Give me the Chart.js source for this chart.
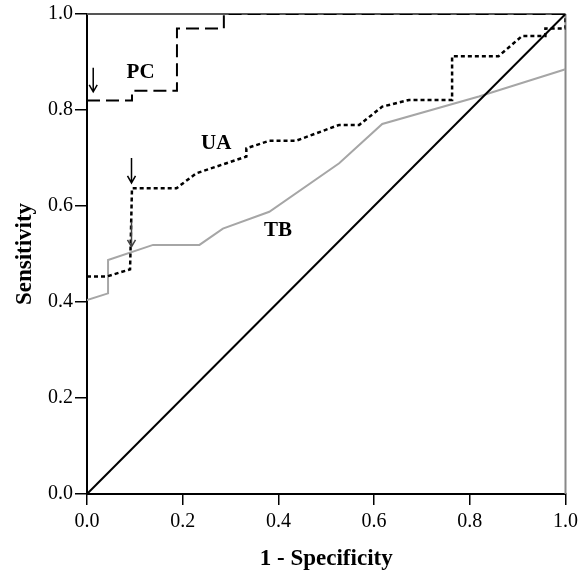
<!DOCTYPE html>
<html>
<head>
<meta charset="utf-8">
<script src="https://cdn.jsdelivr.net/npm/chart.js@4.4.1/dist/chart.umd.min.js"></script>
<style>
  html, body { margin: 0; padding: 0; background: #fff; }
  #wrap { width: 583px; height: 575px; }
</style>
</head>
<body>
<div id="wrap"><canvas id="rocChart" width="583" height="575"></canvas></div>
<script>
// ROC-kurver (1 - specificitet, sensitivitet)
const pcX = [0, 0.094, 0.094, 0.188, 0.188, 0.286, 0.286, 1.0];
const pcY = [0.82, 0.82, 0.84, 0.84, 0.97, 0.97, 1.0, 1.0];

const uaX = [0, 0.041, 0.090, 0.094, 0.187, 0.228, 0.333, 0.333, 0.381, 0.437, 0.527, 0.569, 0.617, 0.673, 0.763, 0.763, 0.860, 0.909, 0.958, 0.958, 1.0, 1.0];
const uaY = [0.453, 0.453, 0.468, 0.637, 0.637, 0.668, 0.703, 0.720, 0.736, 0.736, 0.769, 0.769, 0.807, 0.821, 0.821, 0.912, 0.912, 0.954, 0.954, 0.970, 0.970, 1.0];

const tbX = [0, 0.044, 0.044, 0.138, 0.235, 0.284, 0.381, 0.527, 0.617, 0.819, 1.0];
const tbY = [0.404, 0.418, 0.4875, 0.519, 0.519, 0.553, 0.588, 0.689, 0.771, 0.828, 0.885];

const refX = [0, 1];
const refY = [0, 1];

const tickValues = [0, 0.2, 0.4, 0.6, 0.8, 1.0];

// tekst og pile i dataenheder
const labelTexts = ['PC', 'UA', 'TB'];
const labelX = [0.112, 0.270, 0.399];
const labelY = [0.877, 0.730, 0.548];

const arrowX = [0.013, 0.093, 0.093];
const arrowTop = [0.888, 0.700, 0.567];
const arrowBottom = [0.838, 0.648, 0.515];
const arrowColors = ['#000', '#000', '#444'];

function toPoints(xs, ys) {
    return xs.map((x, i) => ({ x: x, y: ys[i] }));
}

Chart.defaults.font.family = "'Liberation Serif', 'Times New Roman', serif";
Chart.defaults.color = '#000';

const annotations = {
    id: 'annotations',
    beforeDatasetsDraw(chart) {
        // ramme top og højre, under kurverne
        const ctx = chart.ctx;
        const area = chart.chartArea;
        ctx.save();
        ctx.lineWidth = 2;
        ctx.strokeStyle = '#555';
        ctx.beginPath();
        ctx.moveTo(area.left, area.top);
        ctx.lineTo(area.right, area.top);
        ctx.stroke();
        ctx.strokeStyle = '#888';
        ctx.beginPath();
        ctx.moveTo(area.right, area.top);
        ctx.lineTo(area.right, area.bottom);
        ctx.stroke();
        ctx.restore();
    },
    afterDatasetsDraw(chart) {
        const ctx = chart.ctx;
        const xs = chart.scales.x;
        const ys = chart.scales.y;

        ctx.save();
        ctx.fillStyle = '#000';
        ctx.font = "bold 21px 'Liberation Serif', serif";
        ctx.textAlign = 'center';
        ctx.textBaseline = 'middle';
        labelTexts.forEach((t, i) => {
            ctx.fillText(t, xs.getPixelForValue(labelX[i]), ys.getPixelForValue(labelY[i]));
        });

        arrowX.forEach((ax, i) => {
            const px = xs.getPixelForValue(ax);
            const top = ys.getPixelForValue(arrowTop[i]);
            const bot = ys.getPixelForValue(arrowBottom[i]);
            ctx.strokeStyle = arrowColors[i];
            ctx.lineWidth = 1.5;
            ctx.beginPath();
            ctx.moveTo(px, top);
            ctx.lineTo(px, bot);
            ctx.moveTo(px - 4, bot - 7);
            ctx.lineTo(px, bot);
            ctx.lineTo(px + 4, bot - 7);
            ctx.stroke();
        });
        ctx.restore();
    }
};

const ctx = document.getElementById('rocChart').getContext('2d');

new Chart(ctx, {
    type: 'scatter',
    data: {
        datasets: [
            {
                label: 'UA',
                data: toPoints(uaX, uaY),
                borderColor: '#000',
                borderWidth: 2.5,
                borderDash: [4, 3]
            },
            {
                label: 'PC',
                data: toPoints(pcX, pcY),
                borderColor: '#000',
                borderWidth: 2,
                borderDash: [13, 6]
            },
            {
                label: 'Reference',
                data: toPoints(refX, refY),
                borderColor: '#000',
                borderWidth: 2
            },
            {
                label: 'TB',
                data: toPoints(tbX, tbY),
                borderColor: '#a6a6a6',
                borderWidth: 2
            }
        ]
    },
    options: {
        responsive: false,
        animation: false,
        devicePixelRatio: 1,
        showLine: true,
        elements: {
            point: { radius: 0, hoverRadius: 0 },
            line: { tension: 0, fill: false }
        },
        layout: { padding: { top: 14, right: 16, left: 0, bottom: 0 } },
        plugins: {
            legend: { display: false },
            tooltip: { enabled: false }
        },
        scales: {
            x: {
                type: 'linear',
                min: 0,
                max: 1,
                afterBuildTicks: scale => { scale.ticks = tickValues.map(v => ({ value: v })); },
                afterFit: scale => { scale.height = 81; },
                ticks: {
                    font: { size: 20 },
                    color: '#000',
                    padding: 5,
                    maxRotation: 0,
                    callback: v => v.toFixed(1)
                },
                grid: {
                    display: true,
                    drawOnChartArea: false,
                    drawTicks: true,
                    tickLength: 11,
                    color: '#000',
                    lineWidth: 1.5
                },
                border: { display: true, color: '#000', width: 2 },
                title: {
                    display: true,
                    text: '1 - Specificity',
                    font: { size: 23, weight: 'bold' },
                    color: '#000',
                    padding: { top: 0, bottom: 2 }
                }
            },
            y: {
                type: 'linear',
                min: 0,
                max: 1,
                afterBuildTicks: scale => { scale.ticks = tickValues.map(v => ({ value: v })); },
                afterFit: scale => { scale.width = 87; },
                ticks: {
                    font: { size: 20 },
                    color: '#000',
                    padding: 2,
                    callback: v => v.toFixed(1)
                },
                grid: {
                    display: true,
                    drawOnChartArea: false,
                    drawTicks: true,
                    tickLength: 12,
                    color: '#000',
                    lineWidth: 1.5
                },
                border: { display: true, color: '#000', width: 2 },
                title: {
                    display: true,
                    text: 'Sensitivity',
                    font: { size: 23, weight: 'bold' },
                    color: '#000',
                    padding: { top: 11, bottom: 0 }
                }
            }
        }
    },
    plugins: [annotations]
});
</script>
</body>
</html>
